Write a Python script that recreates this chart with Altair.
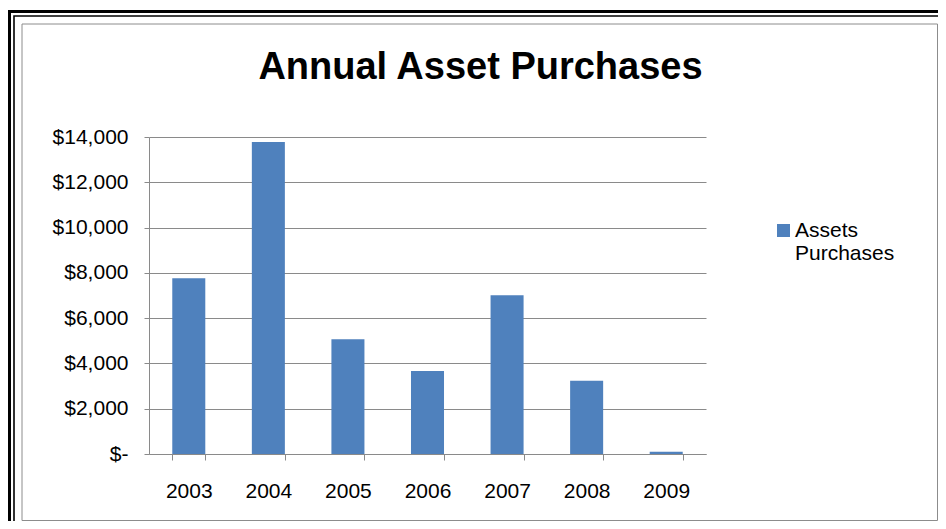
import altair as alt
import pandas as pd

# ---- data ----
years = ["2003", "2004", "2005", "2006", "2007", "2008", "2009"]
purchases = [7760, 13780, 5070, 3670, 7010, 3230, 100]
series_name = "Assets Purchases"
y_ticks = [0, 2000, 4000, 6000, 8000, 10000, 12000, 14000]
title_text = "Annual Asset Purchases"

df = pd.DataFrame({"year": years, "value": purchases, "series": [series_name] * len(years)})

W, H = 557, 317
PL, PT = 141, 129
TOTAL_W, TOTAL_H = 930, 513
FONT = "Liberation Sans"
GRAY = "#8a8a8a"
BLUE = "#4F81BD"
OX, OY = PL + 8, PT + 8

one = pd.DataFrame({"k": [0]})


def frame(x1, y1, x2, y2, color, sw):
    # page coordinates -> plot-relative coordinates
    return alt.Chart(one).mark_rect(filled=False, stroke=color, strokeWidth=sw).encode(
        x=alt.value(x1 - OX), x2=alt.value(x2 - OX),
        y=alt.value(y1 - OY), y2=alt.value(y2 - OY),
    )


outer = frame(9.5, 11.5, 990, 590, "black", 3)
inner = frame(14, 16, 990, 590, "black", 1.6)
panel = frame(22, 24, 937.5, 520.5, "#8c8c8c", 1)

title = alt.Chart(pd.DataFrame({"t": [title_text]})).mark_text(
    font=FONT, fontSize=38, fontWeight="bold", color="black", align="center", baseline="alphabetic"
).encode(text="t:N", x=alt.value(480.5 - OX), y=alt.value(79 - OY))

bars = alt.Chart(df).mark_bar().encode(
    x=alt.X(
        "year:N", sort=years,
        scale=alt.Scale(paddingInner=0.585, paddingOuter=0.2925),
        axis=alt.Axis(title=None, labelAngle=0, tickBand="extent", ticks=True, tickSize=6,
                      labelPadding=20, labelFontSize=21, labelFont=FONT, labelColor="black",
                      domainColor=GRAY, tickColor=GRAY, grid=False),
    ),
    y=alt.Y(
        "value:Q",
        scale=alt.Scale(domain=[0, 14000], nice=False),
        axis=alt.Axis(title=None, values=y_ticks, grid=True, gridColor=GRAY, tickSize=5,
                      labelPadding=16, labelFontSize=21, labelFont=FONT, labelColor="black",
                      domainColor=GRAY, tickColor=GRAY,
                      labelExpr="datum.value == 0 ? '$-' : '$' + format(datum.value, ',')"),
    ),
    color=alt.Color(
        "series:N",
        scale=alt.Scale(range=[BLUE]),
        legend=alt.Legend(title=None, orient="none", legendX=624, legendY=83,
                          symbolType="square", symbolSize=169, symbolStrokeWidth=0,
                          labelOffset=1,
                          labelExpr="split(datum.label, ' ')", labelFontSize=21,
                          labelFont=FONT, labelColor="black", padding=0),
    ),
)

chart = alt.layer(outer, inner, panel, title, bars).properties(
    width=W, height=H,
    padding={"left": PL, "top": PT, "right": TOTAL_W - PL - W, "bottom": TOTAL_H - PT - H},
    autosize="none",
).configure_view(stroke=None)

chart.save("out.html", embed_options={"renderer": "svg", "actions": False})
